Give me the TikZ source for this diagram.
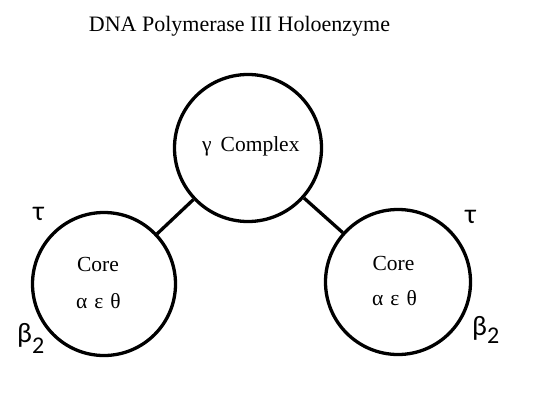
\documentclass[tikz,border=0pt]{standalone}
\usepackage{fontspec}
\setmainfont{Liberation Serif}
\newfontfamily\greekside{Carlito}
\begin{document}
\begin{tikzpicture}[x=1pt,y=-1pt,
  ring/.style={draw, circle, line width=3.3pt, inner sep=0pt},
  label/.style={font=\fontsize{21.5}{24}\selectfont, inner sep=0pt, anchor=base},
  sidelbl/.style={font=\greekside\fontsize{28}{30}\selectfont, inner sep=0pt, anchor=base},
  link/.style={line width=3.3pt}]
\useasboundingbox (0,0) rectangle (540,401);
\node[inner sep=0pt, anchor=base, font=\fontsize{22}{24}\selectfont] (title) at (239.5,31.7) {DNA Polymerase III Holoenzyme};
\node[ring, minimum size=147pt] (top) at (248,148) {};
\node[ring, minimum size=143pt] (left) at (104,284) {};
\node[ring, minimum size=145pt] (right) at (398,282) {};
\draw[link] (top) -- (left);
\draw[link] (top) -- (right);
\node[label, anchor=base west] (tc) at (202,151.7) {γ\hspace{9pt}Complex};
\node[label] (lc) at (98,271.7) {Core};
\node[label] (la) at (98.5,308) {α\hspace{7pt}ε\hspace{7pt}θ};
\node[label] (rc) at (393.5,270) {Core};
\node[label] (ra) at (394.5,305) {α\hspace{7pt}ε\hspace{7pt}θ};
\node[sidelbl] (lt) at (38.5,220) {τ};
\node[sidelbl] (rt) at (470.5,223) {τ};
\node[sidelbl, anchor=base west] (lb) at (17,342) {β\raisebox{-11pt}{\fontsize{24}{26}\selectfont 2}};
\node[sidelbl, anchor=base west] (rb) at (472,335) {β\raisebox{-8pt}{\fontsize{24}{26}\selectfont 2}};
\end{tikzpicture}
\end{document}
